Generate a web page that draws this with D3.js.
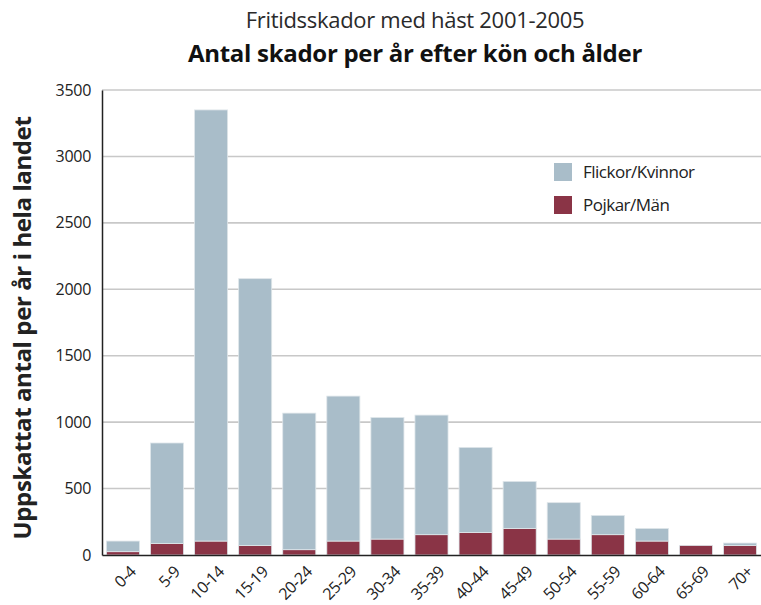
<!DOCTYPE html>
<html>
<head>
<meta charset="utf-8">
<script src="https://cdn.jsdelivr.net/npm/d3@7"></script>
<style>
  body { margin: 0; background: #fff; }
  text { font-family: "Open Sans", "Noto Sans", sans-serif; }
</style>
</head>
<body>
<svg id="chart" width="761" height="605"></svg>
<script>
// age groups and estimated injuries per year
var ages = ["0-4","5-9","10-14","15-19","20-24","25-29","30-34","35-39","40-44","45-49","50-54","55-59","60-64","65-69","70+"];
var pojkar = [25, 87, 105, 72, 40, 105, 120, 153, 170, 200, 120, 153, 105, 72, 72];
var flickor = [80, 756, 3245, 2008, 1028, 1091, 915, 900, 640, 354, 274, 145, 95, 0, 18];
var yTicks = [0, 500, 1000, 1500, 2000, 2500, 3000, 3500];
var seriesNames = ["Flickor/Kvinnor", "Pojkar/Män"];
var colors = {"Flickor/Kvinnor": "#a9bdc9", "Pojkar/Män": "#8a3446"};

var svg = d3.select("#chart");
var margin = {top: 90, right: 0, bottom: 50, left: 102};
var width = 761 - margin.left - margin.right,
    height = 605 - margin.top - margin.bottom;

var rows = ages.map(function(a, i) {
  return {age: a, "Pojkar/Män": pojkar[i], "Flickor/Kvinnor": flickor[i]};
});

// men at the bottom, women stacked on top
var stack = d3.stack().keys(["Pojkar/Män", "Flickor/Kvinnor"]);
var layers = stack(rows);

var x = d3.scaleBand()
  .domain(ages)
  .range([0, width])
  .paddingInner(0.25)
  .paddingOuter(0.1);

var y = d3.scaleLinear()
  .domain([0, 3500])
  .range([height, 0]);

var g = svg.append("g")
  .attr("transform", "translate(" + margin.left + "," + margin.top + ")");

// titles
svg.append("text")
  .attr("x", 415).attr("y", 28)
  .attr("text-anchor", "middle")
  .attr("font-size", 22)
  .attr("letter-spacing", "-0.3")
  .attr("fill", "#2a2a2a")
  .text("Fritidsskador med häst 2001-2005");

svg.append("text")
  .attr("x", 415).attr("y", 62)
  .attr("text-anchor", "middle")
  .attr("font-size", 24)
  .attr("font-weight", "bold")
  .attr("letter-spacing", "-0.3")
  .attr("fill", "#111")
  .text("Antal skador per år efter kön och ålder");

// gridlines
g.append("g")
  .selectAll("line")
  .data(yTicks.filter(function(d) { return d > 0; }))
  .enter().append("line")
  .attr("x1", 0).attr("x2", width)
  .attr("y1", function(d) { return y(d); })
  .attr("y2", function(d) { return y(d); })
  .attr("stroke", "#c8c8c8")
  .attr("stroke-width", 1.6);

// bars
g.selectAll(".layer")
  .data(layers)
  .enter().append("g")
  .attr("class", "layer")
  .attr("fill", function(d) { return colors[d.key]; })
  .selectAll("rect")
  .data(function(d) { return d; })
  .enter().append("rect")
  .attr("x", function(d) { return x(d.data.age); })
  .attr("y", function(d) { return y(d[1]); })
  .attr("width", x.bandwidth())
  .attr("height", function(d) { return y(d[0]) - y(d[1]); })
  .attr("stroke", "#dfe6ea")
  .attr("stroke-width", 0.8);

// y axis
var yAxis = g.append("g")
  .call(d3.axisLeft(y).tickValues(yTicks).tickSize(0).tickPadding(11).tickFormat(d3.format("d")));
yAxis.select(".domain").attr("stroke", "#222").attr("stroke-width", 1.5);
yAxis.selectAll("text")
  .attr("font-size", 16)
  .attr("letter-spacing", "-0.3")
  .attr("fill", "#222")
  .style("font-family", "'Open Sans', sans-serif");

// x axis
var xAxis = g.append("g")
  .attr("transform", "translate(0," + height + ")")
  .call(d3.axisBottom(x).tickSize(0).tickFormat(""));
xAxis.select(".domain").attr("stroke", "#222").attr("stroke-width", 1.5);

xAxis.selectAll(".tick")
  .append("text")
  .attr("fill", "#222")
  .attr("font-size", 16)
  .attr("letter-spacing", "-0.5")
  .attr("text-anchor", "end")
  .attr("dy", "0.7em")
  .attr("transform", "translate(6,10) rotate(-45)")
  .style("font-family", "'Open Sans', sans-serif")
  .text(function(d) { return d; });

// y axis title
svg.append("text")
  .attr("transform", "translate(31,328) rotate(-90)")
  .attr("text-anchor", "middle")
  .attr("font-size", 24)
  .attr("font-weight", "bold")
  .attr("letter-spacing", "-0.4")
  .attr("fill", "#222")
  .text("Uppskattat antal per år i hela landet");

// legend
var legend = svg.append("g")
  .attr("transform", "translate(554,163)");
var li = legend.selectAll("g")
  .data(seriesNames)
  .enter().append("g")
  .attr("transform", function(d, i) { return "translate(0," + (i * 33) + ")"; });
li.append("rect")
  .attr("width", 18).attr("height", 18)
  .attr("fill", function(d) { return colors[d]; });
li.append("text")
  .attr("x", 29).attr("y", 15)
  .attr("font-size", 17)
  .attr("letter-spacing", "-0.5")
  .attr("fill", "#222")
  .text(function(d) { return d; });
</script>
</body>
</html>
